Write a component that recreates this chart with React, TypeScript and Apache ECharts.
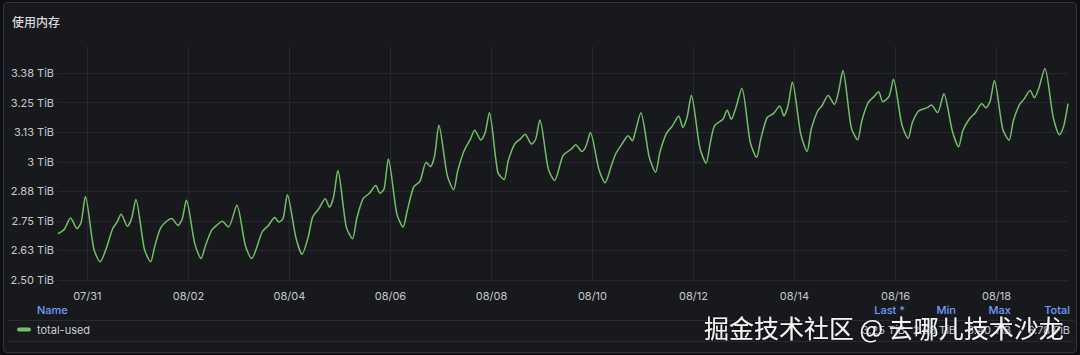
import React, { useEffect, useRef } from "react";
import * as echarts from "echarts";

const panelTitle = "使用内存";
const seriesName = "total-used";
// reference midnight for hour offsets: 07/31 00:00
const baseYear = 2023;
const baseMonth = 6; // zero based (July)
const baseDay = 31;

const hourOffsets = [
  -14, -11, -8, -5, -3, -1, 3, 6, 9, 12, 14, 16, 19, 21, 23, 27, 30, 32, 35, 40,
  43, 45, 47, 51, 54, 56, 59, 62, 64, 67, 71, 75, 78, 83, 86, 89, 91, 93, 95, 99,
  102, 105, 107, 110, 113, 115, 117, 119, 123, 126, 128, 131, 134, 137, 139, 141, 143, 147, 150, 152,
  155, 158, 161, 163, 165, 167, 171, 174, 176, 179, 182, 184, 187, 189, 191, 195, 198, 200, 203, 206,
  208, 211, 213, 215, 219, 222, 226, 230, 232, 235, 237, 239, 243, 246, 249, 251, 254, 257, 259, 260,
  263, 267, 270, 272, 275, 278, 281, 283, 285, 287, 291, 294, 296, 298, 302, 304, 306, 308, 311, 315,
  318, 320, 323, 326, 329, 331, 333, 335, 339, 342, 344, 347, 349, 352, 355, 357, 359, 363, 366, 368,
  371, 374, 376, 378, 381, 383, 387, 390, 392, 395, 399, 401, 404, 407, 411, 414, 416, 419, 422, 425,
  427, 429, 431, 435, 438, 440, 443, 445, 448, 450, 452, 455, 459, 462, 464, 466,
];

const usedTiB = [
  2.696, 2.715, 2.762, 2.718, 2.744, 2.853, 2.633, 2.577, 2.635, 2.718, 2.744, 2.778, 2.727, 2.761, 2.841, 2.633, 2.577, 2.643, 2.724, 2.76,
  2.731, 2.757, 2.837, 2.654, 2.591, 2.643, 2.71, 2.736, 2.749, 2.724, 2.816, 2.647, 2.591, 2.703, 2.731, 2.764, 2.745, 2.76, 2.861, 2.682,
  2.609, 2.685, 2.766, 2.802, 2.844, 2.808, 2.853, 2.963, 2.724, 2.675, 2.761, 2.844, 2.867, 2.9, 2.867, 2.886, 3.012, 2.781, 2.724, 2.794,
  2.893, 2.917, 2.998, 2.98, 3.026, 3.155, 2.942, 2.882, 2.963, 3.047, 3.096, 3.134, 3.092, 3.123, 3.208, 2.956, 2.925, 3.005, 3.075, 3.099,
  3.117, 3.075, 3.096, 3.177, 2.97, 2.921, 3.026, 3.054, 3.072, 3.044, 3.068, 3.124, 2.97, 2.911, 2.984, 3.033, 3.075, 3.11, 3.089, 3.114,
  3.208, 3.019, 2.956, 3.038, 3.117, 3.152, 3.194, 3.145, 3.19, 3.282, 3.061, 2.994, 3.081, 3.152, 3.18, 3.218, 3.18, 3.224, 3.311, 3.082,
  3.019, 3.097, 3.187, 3.204, 3.236, 3.194, 3.24, 3.338, 3.117, 3.044, 3.139, 3.215, 3.236, 3.281, 3.243, 3.299, 3.386, 3.145, 3.093, 3.173,
  3.25, 3.278, 3.296, 3.254, 3.278, 3.349, 3.159, 3.099, 3.165, 3.215, 3.229, 3.24, 3.208, 3.288, 3.131, 3.064, 3.131, 3.18, 3.208, 3.246,
  3.228, 3.257, 3.344, 3.138, 3.092, 3.173, 3.243, 3.264, 3.302, 3.271, 3.308, 3.395, 3.187, 3.114, 3.152, 3.246,
];

// x ticks: every second day from 07/31
const xTickDayOffsets = [0, 2, 4, 6, 8, 10, 12, 14, 16, 18];
const yTickValues = [2.5, 2.625, 2.75, 2.875, 3, 3.125, 3.25, 3.375];
const yTickLabels = ["2.50 TiB", "2.63 TiB", "2.75 TiB", "2.88 TiB", "3 TiB", "3.13 TiB", "3.25 TiB", "3.38 TiB"];
const legendHeaders = ["Last *", "Min", "Max", "Total"];
const legendValues = ["3.25 TiB", "2.58 TiB", "3.40 TiB", "6.78 PiB"];
const watermarkText = "掘金技术社区 @ 去哪儿技术沙龙";

const HOUR = 3600 * 1000;
const DAY = 24 * HOUR;

export default function App() {
  const ref = useRef<HTMLDivElement>(null);

  useEffect(() => {
    if (!ref.current) return;
    const chart = echarts.init(ref.current, null, { renderer: "svg" });
    const base = new Date(baseYear, baseMonth, baseDay).getTime();
    const times = hourOffsets.map((h) => base + h * HOUR);
    const data = times.map((t, i) => [t, usedTiB[i]]);
    const xTicks = xTickDayOffsets.map((d) => base + d * DAY);
    const pad = (n: number) => (n < 10 ? "0" + n : "" + n);
    const font = "Inter, 'Noto Sans', sans-serif";
    const textColor = "#c7c8cf";
    const gridColor = "#27282d";
    const sepColor = "#2a2b30";
    const headerColor = "#6e9fff";
    const colRight = [905, 956, 1011, 1070];

    const graphics: any[] = [
      {
        type: "text",
        x: 12,
        y: 21,
        style: { text: panelTitle, fill: "#d8d9de", font: "500 12px 'Noto Sans CJK SC', Inter, sans-serif", verticalAlign: "middle" },
      },
      {
        type: "text",
        x: 37,
        y: 310,
        style: { text: "Name", fill: headerColor, font: `500 11px ${font}`, verticalAlign: "middle" },
      },
      { type: "line", shape: { x1: 8, y1: 320.5, x2: 1074, y2: 320.5 }, style: { stroke: sepColor, lineWidth: 1 } },
      { type: "line", shape: { x1: 8, y1: 341.5, x2: 1074, y2: 341.5 }, style: { stroke: sepColor, lineWidth: 1 } },
      {
        type: "line",
        shape: { x1: 19, y1: 329.5, x2: 29, y2: 329.5 },
        style: { stroke: "#73bf69", lineWidth: 4, lineCap: "round" },
      },
      {
        type: "text",
        x: 37,
        y: 330,
        style: { text: seriesName, fill: "#ccccdc", font: `11px ${font}`, verticalAlign: "middle" },
      },
    ];
    legendHeaders.forEach((h, i) => {
      graphics.push({
        type: "text",
        x: colRight[i],
        y: 310,
        style: { text: h, fill: headerColor, font: `500 11px ${font}`, align: "right", verticalAlign: "middle" },
      });
      graphics.push({
        type: "text",
        x: colRight[i],
        y: 330,
        style: { text: legendValues[i], fill: "#ccccdc", font: `11px ${font}`, align: "right", verticalAlign: "middle" },
      });
    });
    graphics.push({
      type: "text",
      x: 704,
      y: 327,
      z: 100,
      style: {
        text: watermarkText,
        fill: "#f4f4f4",
        font: "25px 'Noto Sans CJK SC', sans-serif",
        verticalAlign: "middle",
        textShadowColor: "rgba(0,0,0,0.7)",
        textShadowBlur: 3,
      },
    });

    chart.setOption({
      animation: false,
      backgroundColor: "transparent",
      textStyle: { fontFamily: font },
      grid: { left: 58, right: 12, top: 46, bottom: 75, containLabel: false },
      xAxis: {
        type: "value",
        min: times[0],
        max: times[times.length - 1],
        axisLine: { show: false },
        axisTick: { show: false, customValues: xTicks },
        axisLabel: {
          customValues: xTicks,
          color: textColor,
          fontSize: 11,
          margin: 10,
          fontFamily: font,
          formatter: (v: number) => {
            const d = new Date(v);
            return pad(d.getMonth() + 1) + "/" + pad(d.getDate());
          },
        },
        splitLine: { show: true, lineStyle: { color: gridColor, width: 1 } },
      },
      yAxis: {
        type: "value",
        min: 2.5,
        max: 3.49,
        axisLine: { show: false },
        axisTick: { show: false, customValues: yTickValues },
        axisLabel: {
          customValues: yTickValues,
          color: textColor,
          fontSize: 11,
          margin: 4,
          fontFamily: font,
          formatter: (v: number) => {
            let best = 0;
            yTickValues.forEach((t, i) => {
              if (Math.abs(t - v) < Math.abs(yTickValues[best] - v)) best = i;
            });
            return yTickLabels[best];
          },
        },
        splitLine: { show: true, lineStyle: { color: gridColor, width: 1 } },
      },
      series: [
        {
          name: seriesName,
          type: "line",
          data,
          showSymbol: false,
          smooth: 0.25,
          lineStyle: { color: "#73bf69", width: 1.5 },
          itemStyle: { color: "#73bf69" },
        },
      ],
      graphic: graphics,
    });
    return () => chart.dispose();
  }, []);

  return (
    <div style={{ position: "fixed", left: 0, top: 0, width: 1080, height: 355, background: "#0e0f12" }}>
      <div
        style={{
          position: "absolute",
          left: 3,
          top: 2,
          width: 1074,
          height: 351,
          boxSizing: "border-box",
          background: "#18191d",
          border: "1px solid #34353b",
          borderRadius: 4,
        }}
      />
      <div ref={ref} style={{ position: "absolute", left: 0, top: 0, width: 1080, height: 355 }} />
    </div>
  );
}
